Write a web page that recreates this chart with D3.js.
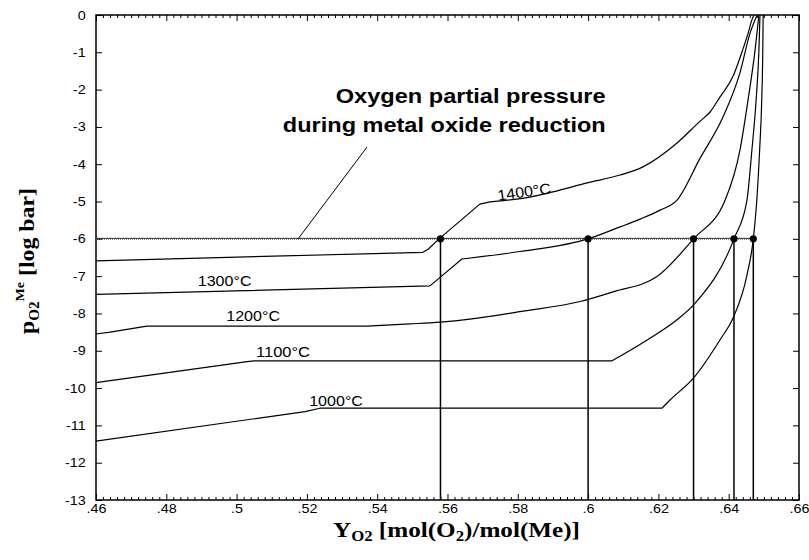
<!DOCTYPE html>
<html>
<head>
<meta charset="utf-8">
<script src="https://cdn.jsdelivr.net/npm/d3@7"></script>
<style>
  body { margin: 0; background: #fff; }
  svg { display: block; }
</style>
</head>
<body>
<svg id="chart" width="809" height="560"></svg>
<script>
// Oxygen fraction Y_O2 [mol(O2)/mol(Me)] vs. equilibrium log p_O2 for five temperatures
const xMajorTicks = [0.46, 0.48, 0.50, 0.52, 0.54, 0.56, 0.58, 0.60, 0.62, 0.64, 0.66];
const yTicks = [0, -1, -2, -3, -4, -5, -6, -7, -8, -9, -10, -11, -12, -13];
const temperatures = ["1400°C", "1300°C", "1200°C", "1100°C", "1000°C"];

// [Y_O2, log p_O2] pairs per isotherm
const curve1400 = [[0.4600, -6.59], [0.5530, -6.36], [0.5545, -6.28], [0.5576, -6.00], [0.5692, -5.07],
  [0.5721, -5.01], [0.5835, -4.88], [0.5900, -4.74], [0.5997, -4.50], [0.6091, -4.29], [0.6156, -4.07],
  [0.6253, -3.43], [0.6318, -2.85], [0.6347, -2.60], [0.6375, -2.20], [0.6412, -1.65], [0.6441, -0.90],
  [0.6455, -0.50], [0.6466, -0.13], [0.6472, 0.00]];
const curve1300 = [[0.4600, -7.49], [0.5550, -7.26], [0.5573, -7.08], [0.5641, -6.54], [0.5806, -6.34],
  [0.6000, -6.00], [0.6091, -5.68], [0.6148, -5.47], [0.6205, -5.23], [0.6253, -4.96], [0.6318, -3.85],
  [0.6384, -2.73], [0.6432, -1.55], [0.6461, -0.48], [0.6481, 0.00]];
const curve1200 = [[0.4600, -8.55], [0.4640, -8.50], [0.4745, -8.34], [0.5371, -8.34], [0.5493, -8.28],
  [0.5579, -8.23], [0.5664, -8.15], [0.5806, -7.95], [0.5977, -7.68], [0.6071, -7.42], [0.6196, -7.01],
  [0.6300, -6.00], [0.6390, -4.96], [0.6432, -3.62], [0.6455, -2.28], [0.6475, -0.94], [0.6486, 0.00]];
const curve1100 = [[0.4600, -9.855], [0.5030, -9.29], [0.5050, -9.27], [0.6068, -9.27], [0.6168, -8.71],
  [0.6253, -8.17], [0.6304, -7.73], [0.6415, -6.00], [0.6452, -4.96], [0.6466, -3.62], [0.6478, -2.28],
  [0.6486, -0.94], [0.6489, 0.00]];
const curve1000 = [[0.4600, -11.42], [0.5195, -10.63], [0.5237, -10.54], [0.6210, -10.54], [0.6233, -10.32],
  [0.6299, -9.74], [0.6375, -8.71], [0.6414, -8.09], [0.6451, -7.01], [0.6470, -6.00], [0.6480, -4.96],
  [0.6488, -3.62], [0.6494, -2.28], [0.6497, -0.94], [0.6498, 0.00]];
const isotherms = [curve1400, curve1300, curve1200, curve1100, curve1000];
// index of the last point of each isotherm's straight (piecewise) part
const straightUntil = [5, 3, 3, 3, 3];

// Reduction level and the oxygen fractions where each isotherm meets it
const reductionLogP = -6;
const equilibriumY = [0.558, 0.600, 0.630, 0.6415, 0.647];

const W = 809, H = 560;
const margin = { left: 96, right: 10, top: 15, bottom: 60 };
const svg = d3.select("#chart");

const x = d3.scaleLinear().domain([0.46, 0.66]).range([margin.left, W - margin.right]);
const y = d3.scaleLinear().domain([-13, 0]).range([H - margin.bottom, margin.top]);

const SANS = "'Liberation Sans', Arial, sans-serif";
const SERIF = "'Liberation Serif', 'Times New Roman', serif";

// stretch a text element horizontally (in its own frame) around an anchor
function stretchTo(sel, width, anchor) {
  const bb = sel.node().getBBox();
  const s = width / bb.width;
  const ax = anchor === "end" ? bb.x + bb.width : anchor === "middle" ? bb.x + bb.width / 2 : bb.x;
  sel.attr("transform", `translate(${ax},0) scale(${s},1) translate(${-ax},0)`);
}

// ---- axes ----
const minorX = d3.range(0, 101).map(i => +(0.46 + i * 0.002).toFixed(3))
  .filter(v => !xMajorTicks.some(m => Math.abs(m - v) < 1e-6));
const fmtX = d => d3.format(".2~f")(d).replace(/^0/, "");

function styleAxis(g) {
  g.select(".domain").remove();
  g.selectAll(".tick line").attr("stroke", "#000").attr("stroke-width", 1);
  g.selectAll("text").attr("fill", "#000").attr("font-family", SANS).attr("font-size", 12.5);
}

const bottom = svg.append("g").attr("transform", `translate(0,${y(-13)})`)
  .call(d3.axisBottom(x).tickValues(xMajorTicks).tickSize(-6).tickPadding(4).tickFormat(fmtX))
  .call(styleAxis);
bottom.selectAll("text").attr("transform", "scale(1.15,1)");
svg.append("g").attr("transform", `translate(0,${y(-13)})`)
  .call(d3.axisBottom(x).tickValues(minorX).tickSize(-3).tickFormat(""))
  .call(styleAxis);
svg.append("g").attr("transform", `translate(0,${y(0)})`)
  .call(d3.axisTop(x).tickValues(xMajorTicks).tickSize(-6).tickFormat(""))
  .call(styleAxis);
svg.append("g").attr("transform", `translate(0,${y(0)})`)
  .call(d3.axisTop(x).tickValues(minorX).tickSize(-3).tickFormat(""))
  .call(styleAxis);
const left = svg.append("g").attr("transform", `translate(${x(0.46)},0)`)
  .call(d3.axisLeft(y).tickValues(yTicks).tickSize(-6).tickPadding(9).tickFormat(d => String(d)))
  .call(styleAxis);
left.selectAll("text").attr("transform", "scale(1.15,1)");
svg.append("g").attr("transform", `translate(${x(0.66)},0)`)
  .call(d3.axisRight(y).tickValues(yTicks).tickSize(-6).tickFormat(""))
  .call(styleAxis);

// plot frame
svg.append("rect")
  .attr("x", x(0.46)).attr("y", y(0))
  .attr("width", x(0.66) - x(0.46)).attr("height", y(-13) - y(0))
  .attr("fill", "none").attr("stroke", "#000").attr("stroke-width", 1.5);

// ---- reduction level line: thin dark rule with a dotted grey edge ----
const redY = y(reductionLogP);
svg.append("line")
  .attr("x1", x(0.46)).attr("x2", x(d3.max(equilibriumY)))
  .attr("y1", redY - 0.5).attr("y2", redY - 0.5)
  .attr("stroke", "#222").attr("stroke-width", 1);
svg.append("line")
  .attr("x1", x(0.46)).attr("x2", x(d3.max(equilibriumY)))
  .attr("y1", redY + 0.5).attr("y2", redY + 0.5)
  .attr("stroke", "#777").attr("stroke-width", 1).attr("stroke-dasharray", "1,1");

// ---- isotherms: straight piecewise part, then smooth rise ----
const straight = d3.line().x(d => x(d[0])).y(d => y(d[1])).curve(d3.curveLinear);
const smooth = d3.line().x(d => x(d[0])).y(d => y(d[1])).curve(d3.curveMonotoneX);
const iso = svg.append("g").attr("fill", "none").attr("stroke", "#000").attr("stroke-width", 1.2)
  .attr("stroke-linejoin", "round");
isotherms.forEach((pts, i) => {
  const k = straightUntil[i];
  const d = straight(pts.slice(0, k + 1)) + smooth(pts.slice(k)).replace(/^M/, "L");
  iso.append("path").attr("d", d);
});

// ---- drop lines and equilibrium points ----
svg.append("g").selectAll("line").data(equilibriumY).join("line")
  .attr("x1", d => x(d)).attr("x2", d => x(d))
  .attr("y1", y(reductionLogP)).attr("y2", y(-13))
  .attr("stroke", "#000").attr("stroke-width", 1.5);
svg.append("g").selectAll("circle").data(equilibriumY).join("circle")
  .attr("cx", d => x(d)).attr("cy", y(reductionLogP)).attr("r", 3.6).attr("fill", "#000");

// ---- isotherm labels ----
const labelAnchors = [[0.5820, -4.88, -8], [0.4966, -7.26, 0], [0.5047, -8.20, 0], [0.5132, -9.17, 0], [0.5283, -10.48, 0]];
temperatures.forEach((t, i) => {
  const [lx, ly, rot] = labelAnchors[i];
  const g = svg.append("g").attr("transform", `translate(${x(lx)},${y(ly)}) rotate(${rot})`);
  const txt = g.append("text").attr("x", 0).attr("y", 0).attr("text-anchor", "middle")
    .attr("font-family", SANS).attr("font-size", 15).attr("fill", "#000").text(t);
  stretchTo(txt, 54, "middle");
});

// ---- annotation ----
svg.append("line")
  .attr("x1", x(0.5371)).attr("y1", y(-3.54))
  .attr("x2", x(0.5175)).attr("y2", y(reductionLogP))
  .attr("stroke", "#000").attr("stroke-width", 1);
const note1 = svg.append("text").attr("x", x(0.605)).attr("y", y(-2.36)).attr("text-anchor", "end")
  .attr("font-family", SANS).attr("font-weight", "bold").attr("font-size", 20).attr("fill", "#000")
  .text("Oxygen partial pressure");
stretchTo(note1, 270, "end");
const note2 = svg.append("text").attr("x", x(0.605)).attr("y", y(-3.14)).attr("text-anchor", "end")
  .attr("font-family", SANS).attr("font-weight", "bold").attr("font-size", 20).attr("fill", "#000")
  .text("during metal oxide reduction");
stretchTo(note2, 323, "end");

// ---- axis titles ----
const xt = svg.append("text").attr("x", 333).attr("y", 537)
  .attr("font-family", SERIF).attr("font-weight", "bold").attr("font-size", 21).attr("fill", "#000");
xt.append("tspan").text("Y");
xt.append("tspan").attr("font-size", 14).attr("dy", 4).text("O2");
xt.append("tspan").attr("dy", -4).text(" [mol(O");
xt.append("tspan").attr("font-size", 14).attr("dy", 4).text("2");
xt.append("tspan").attr("dy", -4).text(")/mol(Me)]");
stretchTo(xt, 247, "start");

const yg = svg.append("g").attr("transform", "translate(34,334) rotate(-90)");
const yt = yg.append("text").attr("x", 0).attr("y", 0)
  .attr("font-family", SERIF).attr("font-weight", "bold").attr("font-size", 22).attr("fill", "#000");
yt.append("tspan").text("p");
yt.append("tspan").attr("font-size", 14).attr("dy", 5).text("O2");
yt.append("tspan").attr("font-size", 13).attr("dy", -15).text("Me");
yt.append("tspan").attr("dy", 10).text(" [log bar]");
stretchTo(yt, 146, "start");
</script>
</body>
</html>
